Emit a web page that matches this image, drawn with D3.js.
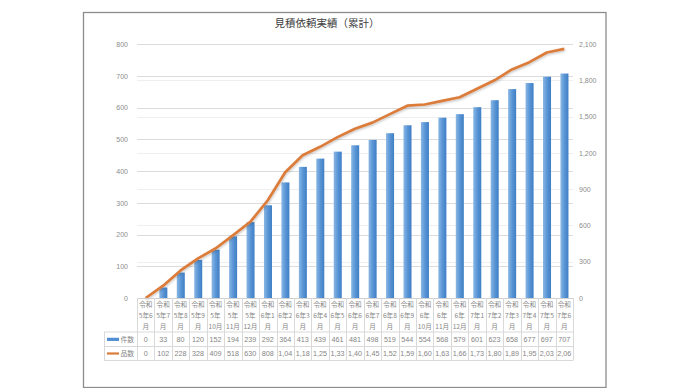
<!DOCTYPE html>
<html><head><meta charset="utf-8">
<script src="https://cdn.jsdelivr.net/npm/d3@7"></script>
<style>html,body{margin:0;padding:0;background:#fff;}svg{display:block;}</style>
</head><body>
<script>
const categories = ["令和5年6月","令和5年7月","令和5年8月","令和5年9月","令和5年10月","令和5年11月","令和5年12月",
"令和6年1月","令和6年2月","令和6年3月","令和6年4月","令和6年5月","令和6年6月","令和6年7月","令和6年8月","令和6年9月",
"令和6年10月","令和6年11月","令和6年12月","令和7年1月","令和7年2月","令和7年3月","令和7年4月","令和7年5月","令和7年6月"];
const kensu = [0,33,80,120,152,194,239,292,364,413,439,461,481,498,519,544,554,568,579,601,623,658,677,697,707];
const hinsu = [0,102,228,328,409,518,630,808,1040,1180,1250,1330,1400,1450,1520,1590,1600,1630,1660,1730,1800,1890,1950,2030,2060];
const leftTicks = [0,100,200,300,400,500,600,700,800];
const rightTicks = [0,300,600,900,1200,1500,1800,2100];
const seriesNames = ["件数","品数"];
const title = "見積依頼実績（累計）";

const W=690,H=388;
const svg=d3.select("body").append("svg").attr("width",W).attr("height",H)
  .style("font-family","'Noto Sans CJK JP','Noto Sans',sans-serif");
const defs=svg.append("defs");
const g1=defs.append("linearGradient").attr("id","barg").attr("x1","0").attr("x2","1").attr("y1","0").attr("y2","0");
g1.append("stop").attr("offset","0").attr("stop-color","#8ab7e4");
g1.append("stop").attr("offset","0.5").attr("stop-color","#5a96d6");
g1.append("stop").attr("offset","1").attr("stop-color","#3f7ec4");
const f=defs.append("filter").attr("id","sh").attr("x","-10%").attr("y","-10%").attr("width","120%").attr("height","130%");
f.append("feDropShadow").attr("dx",0.5).attr("dy",1.2).attr("stdDeviation",0.8).attr("flood-color","#000").attr("flood-opacity",0.25);

// frame
svg.append("rect").attr("x",83.5).attr("y",12.5).attr("width",522.5).attr("height",375)
  .attr("fill","#fff").attr("stroke","#8c8c8c").attr("stroke-width",1.3);

const x0=137,x1=573,yTop=44,yBot=298;
const x=d3.scaleBand().domain(categories).range([x0,x1]).padding(0);
const yL=d3.scaleLinear().domain([0,800]).range([yBot,yTop]);
const yR=d3.scaleLinear().domain([0,2100]).range([yBot,yTop]);
const bw=x.bandwidth();

// title
svg.append("text").attr("x",327).attr("y",27).attr("text-anchor","middle")
  .attr("font-size",10.5).attr("fill","#404040").text(title);

// gridlines
svg.append("g").selectAll("line").data(rightTicks.slice(1)).join("line")
  .attr("x1",x0).attr("x2",x1).attr("y1",d=>Math.round(yR(d))+0.5).attr("y2",d=>Math.round(yR(d))+0.5)
  .attr("stroke","#efefef").attr("stroke-width",1);
svg.append("g").selectAll("line").data(leftTicks.slice(1)).join("line")
  .attr("x1",x0).attr("x2",x1).attr("y1",d=>Math.round(yL(d))+0.5).attr("y2",d=>Math.round(yL(d))+0.5)
  .attr("stroke","#dcdcdc").attr("stroke-width",1);

// left axis
const axL=d3.axisLeft(yL).tickValues(leftTicks).tickSize(0).tickPadding(9);
const gL=svg.append("g").attr("transform",`translate(${x0},0)`).call(axL);
gL.select(".domain").remove();
gL.selectAll("text").attr("font-size",7).attr("fill","#8c8c8c").style("font-family","'Liberation Sans',sans-serif");
// right axis
const axR=d3.axisRight(yR).tickValues(rightTicks).tickSize(0).tickPadding(6).tickFormat(d3.format(","));
const gR=svg.append("g").attr("transform",`translate(${x1},0)`).call(axR);
gR.select(".domain").remove();
gR.selectAll("text").attr("font-size",7).attr("fill","#8c8c8c").style("font-family","'Liberation Sans',sans-serif");

// bars
svg.append("g").selectAll("rect").data(kensu).join("rect")
  .attr("x",(d,i)=>x(categories[i])+bw*0.28).attr("width",bw*0.46)
  .attr("y",d=>yL(d)).attr("height",d=>yBot-yL(d)).attr("fill","url(#barg)");

// line
const line=d3.line().x((d,i)=>x(categories[i])+bw/2).y(d=>yR(d));
svg.append("path").datum(hinsu).attr("d",line).attr("fill","none")
  .attr("stroke","#dc7c3a").attr("stroke-width",2.7).attr("stroke-linejoin","round").attr("filter","url(#sh)");

// table
const tg=svg.append("g");
const gridC="#d9d9d9";
const rowTop=298, rowA=332, rowB=346.5, rowC=360.5, legL=104;
tg.append("line").attr("x1",x0).attr("x2",x1).attr("y1",rowTop+0.5).attr("y2",rowTop+0.5).attr("stroke","#d0d0d0");
[rowA,rowB,rowC].forEach(y=>tg.append("line").attr("x1",legL).attr("x2",x1).attr("y1",y).attr("y2",y).attr("stroke",gridC));
tg.append("line").attr("x1",legL+0.5).attr("x2",legL+0.5).attr("y1",rowA).attr("y2",rowC).attr("stroke",gridC);
const bounds=categories.map(c=>x(c)).concat([x1]);
tg.selectAll("line.v").data(bounds).join("line").attr("class","v")
  .attr("x1",d=>Math.round(d)+0.5).attr("x2",d=>Math.round(d)+0.5).attr("y1",rowTop).attr("y2",rowC).attr("stroke",gridC);

function splitLabel(c){
  const m=c.match(/^(令和)(\d+年)(\d+)(月)$/);
  if(m[3].length===1) return [m[1],m[2]+m[3],m[4]];
  return [m[1],m[2],m[3]+m[4]];
}
const lg=tg.append("g").selectAll("g").data(categories).join("g")
  .attr("transform",c=>`translate(${x(c)+bw/2},0)`);
lg.selectAll("text").data(c=>splitLabel(c)).join("text")
  .attr("y",(d,i)=>307+i*11).attr("text-anchor","middle").attr("font-size",6.6).attr("fill","#858585").text(d=>d);

const fmt=d3.format(",");
tg.append("g").selectAll("text").data(kensu).join("text")
  .attr("x",(d,i)=>x(categories[i])+bw/2).attr("y",(rowA+rowB)/2+2.6).attr("text-anchor","middle")
  .attr("font-size",7.2).attr("fill","#858585").style("font-family","'Liberation Sans',sans-serif").text(d=>fmt(d));
tg.append("g").selectAll("text").data(hinsu).join("text")
  .attr("x",(d,i)=>x(categories[i])+bw/2).attr("y",(rowB+rowC)/2+2.6).attr("text-anchor","middle")
  .attr("font-size",7.2).attr("fill","#858585").style("font-family","'Liberation Sans',sans-serif")
  .text(d=>{const s=fmt(d);return s.length>4?s.slice(0,4):s;});

// legend keys
tg.append("rect").attr("x",107).attr("y",(rowA+rowB)/2-1.5).attr("width",12).attr("height",3.2).attr("fill","#4f8fd2");
tg.append("line").attr("x1",107).attr("x2",119).attr("y1",(rowB+rowC)/2).attr("y2",(rowB+rowC)/2).attr("stroke","#dc7c3a").attr("stroke-width",2.2);
tg.append("text").attr("x",120.5).attr("y",(rowA+rowB)/2+2.5).attr("font-size",6.8).attr("fill","#858585").text(seriesNames[0]);
tg.append("text").attr("x",120.5).attr("y",(rowB+rowC)/2+2.5).attr("font-size",6.8).attr("fill","#858585").text(seriesNames[1]);
</script>
</body></html>
